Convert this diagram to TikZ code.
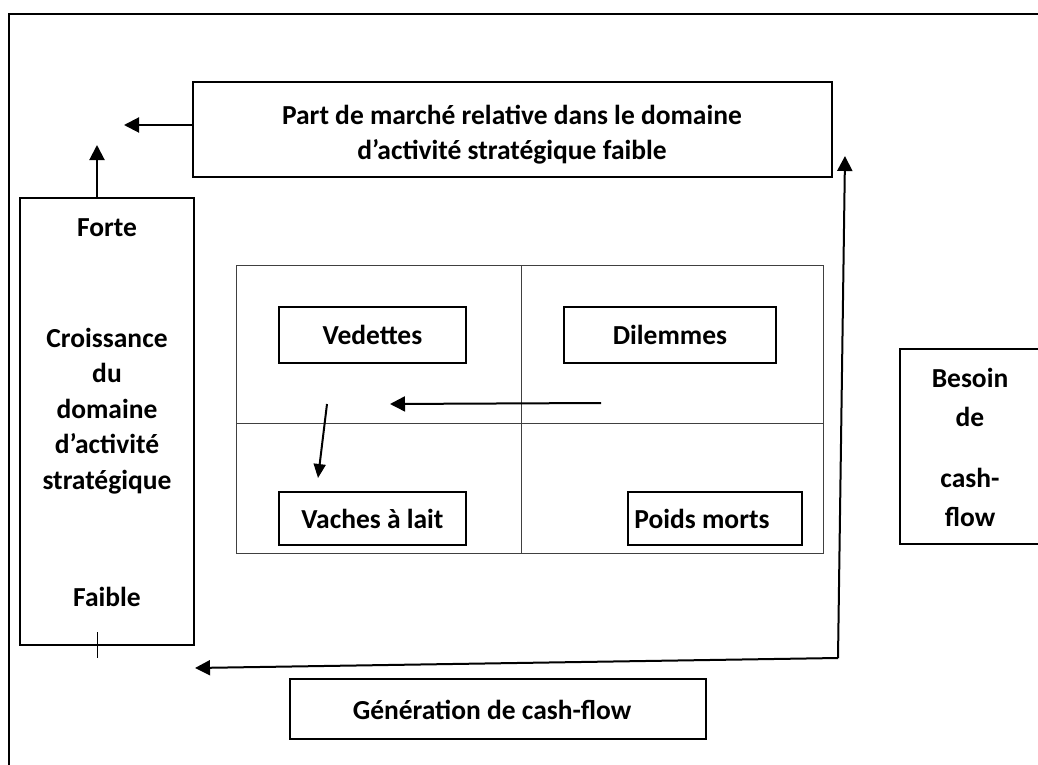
\documentclass[tikz,border=0pt]{standalone}
\usepackage{fontspec}
\setmainfont{Carlito}
\usetikzlibrary{arrows.meta}

\begin{document}
\begin{tikzpicture}[x=1pt,y=-1pt,
  box/.style={draw, line width=2.2pt, inner sep=0pt},
  cell/.style={draw, line width=2pt, inner sep=0pt},
  plain/.style={draw, line width=1.5pt, inner sep=0pt},
  lbl/.style={font=\bfseries\fontsize{27.5}{35.5}\selectfont, align=center, inner sep=0pt},
  arr/.style={line width=2pt, -{Triangle[length=15pt,width=15pt]}},
  sarr/.style={line width=2pt, -{Triangle[length=14pt,width=12pt]}},
  gridline/.style={line width=1pt, black!75}]

\useasboundingbox (0,0) rectangle (1038,765);
\clip (0,0) rectangle (1038,765);

% outer frame
\draw[line width=1.3pt] (9,14) rectangle (1080,800);

% relative market share box
\node[box, minimum width=639pt, minimum height=95pt] (part) at (512.5,129.5) {};
\node[lbl] (parttxt) at (512,134.5) {Part de marché relative dans le domaine\\d’activité stratégique faible};

% market growth box
\node[box, minimum width=174pt, minimum height=447pt] (growth) at (107,421.5) {};
\node[lbl] (forte) at (107,228) {Forte};
\node[lbl] (croiss) at (107,411) {Croissance\\du\\domaine\\d’activité\\stratégique};
\node[lbl] (faible) at (107,597) {Faible};
\draw[line width=1pt] (97,632) -- (97,658);

% axis arrows
\coordinate (tipx) at (124,125);
\coordinate (tipy) at (97,145);
\draw[arr] (part.west |- tipx) -- (tipx);
\draw[arr] (growth.north -| tipy) -- (tipy);

% matrix
\node[draw, gridline, minimum width=587pt, minimum height=288pt, inner sep=0pt] (matrix) at (529.5,409) {};
\draw[gridline] (521,265) -- (521,553);
\draw[gridline] (236,423) -- (823,423);

\node[cell, minimum width=187pt, minimum height=56pt] (vedettes) at (372.5,335) {};
\node[lbl] at (vedettes) {Vedettes};
\node[cell, minimum width=212pt, minimum height=56pt] (dilemmes) at (670,335) {};
\node[lbl] at (dilemmes) {Dilemmes};
\node[cell, minimum width=187pt, minimum height=53pt] (vaches) at (372.5,518.5) {};
\node[lbl] at (vaches) {Vaches à lait};
\node[cell, minimum width=174pt, minimum height=53pt] (poids) at (715,518.5) {};
\node[lbl] at (702,519) {Poids morts};

% movements within the matrix
\coordinate (d0) at (601,403);
\coordinate (d1) at (390,404);
\coordinate (v0) at (327,404);
\coordinate (v1) at (318,478);
\draw[arr] (d0) -- (d1);
\draw[sarr] (v0) -- (v1);

% cash-flow need
\node[plain, minimum width=150pt, minimum height=195pt] (besoin) at (975,446.5) {};
\node[lbl, font=\bfseries\fontsize{27.5}{39}\selectfont] (besointxt) at (970,447.5) {Besoin\\de\\[22pt]cash-\\flow};

% cash-flow generation
\node[plain, minimum width=416pt, minimum height=60pt] (gen) at (498,709) {};
\node[lbl] (gentxt) at (492,710) {Génération de cash-flow};

% cash-flow loop
\coordinate (corner) at (838,658);
\coordinate (tipr) at (845,156);
\coordinate (tipl) at (195,668);
\draw[arr] (corner) -- (tipr);
\draw[arr] (corner) -- (tipl);

\end{tikzpicture}
\end{document}
